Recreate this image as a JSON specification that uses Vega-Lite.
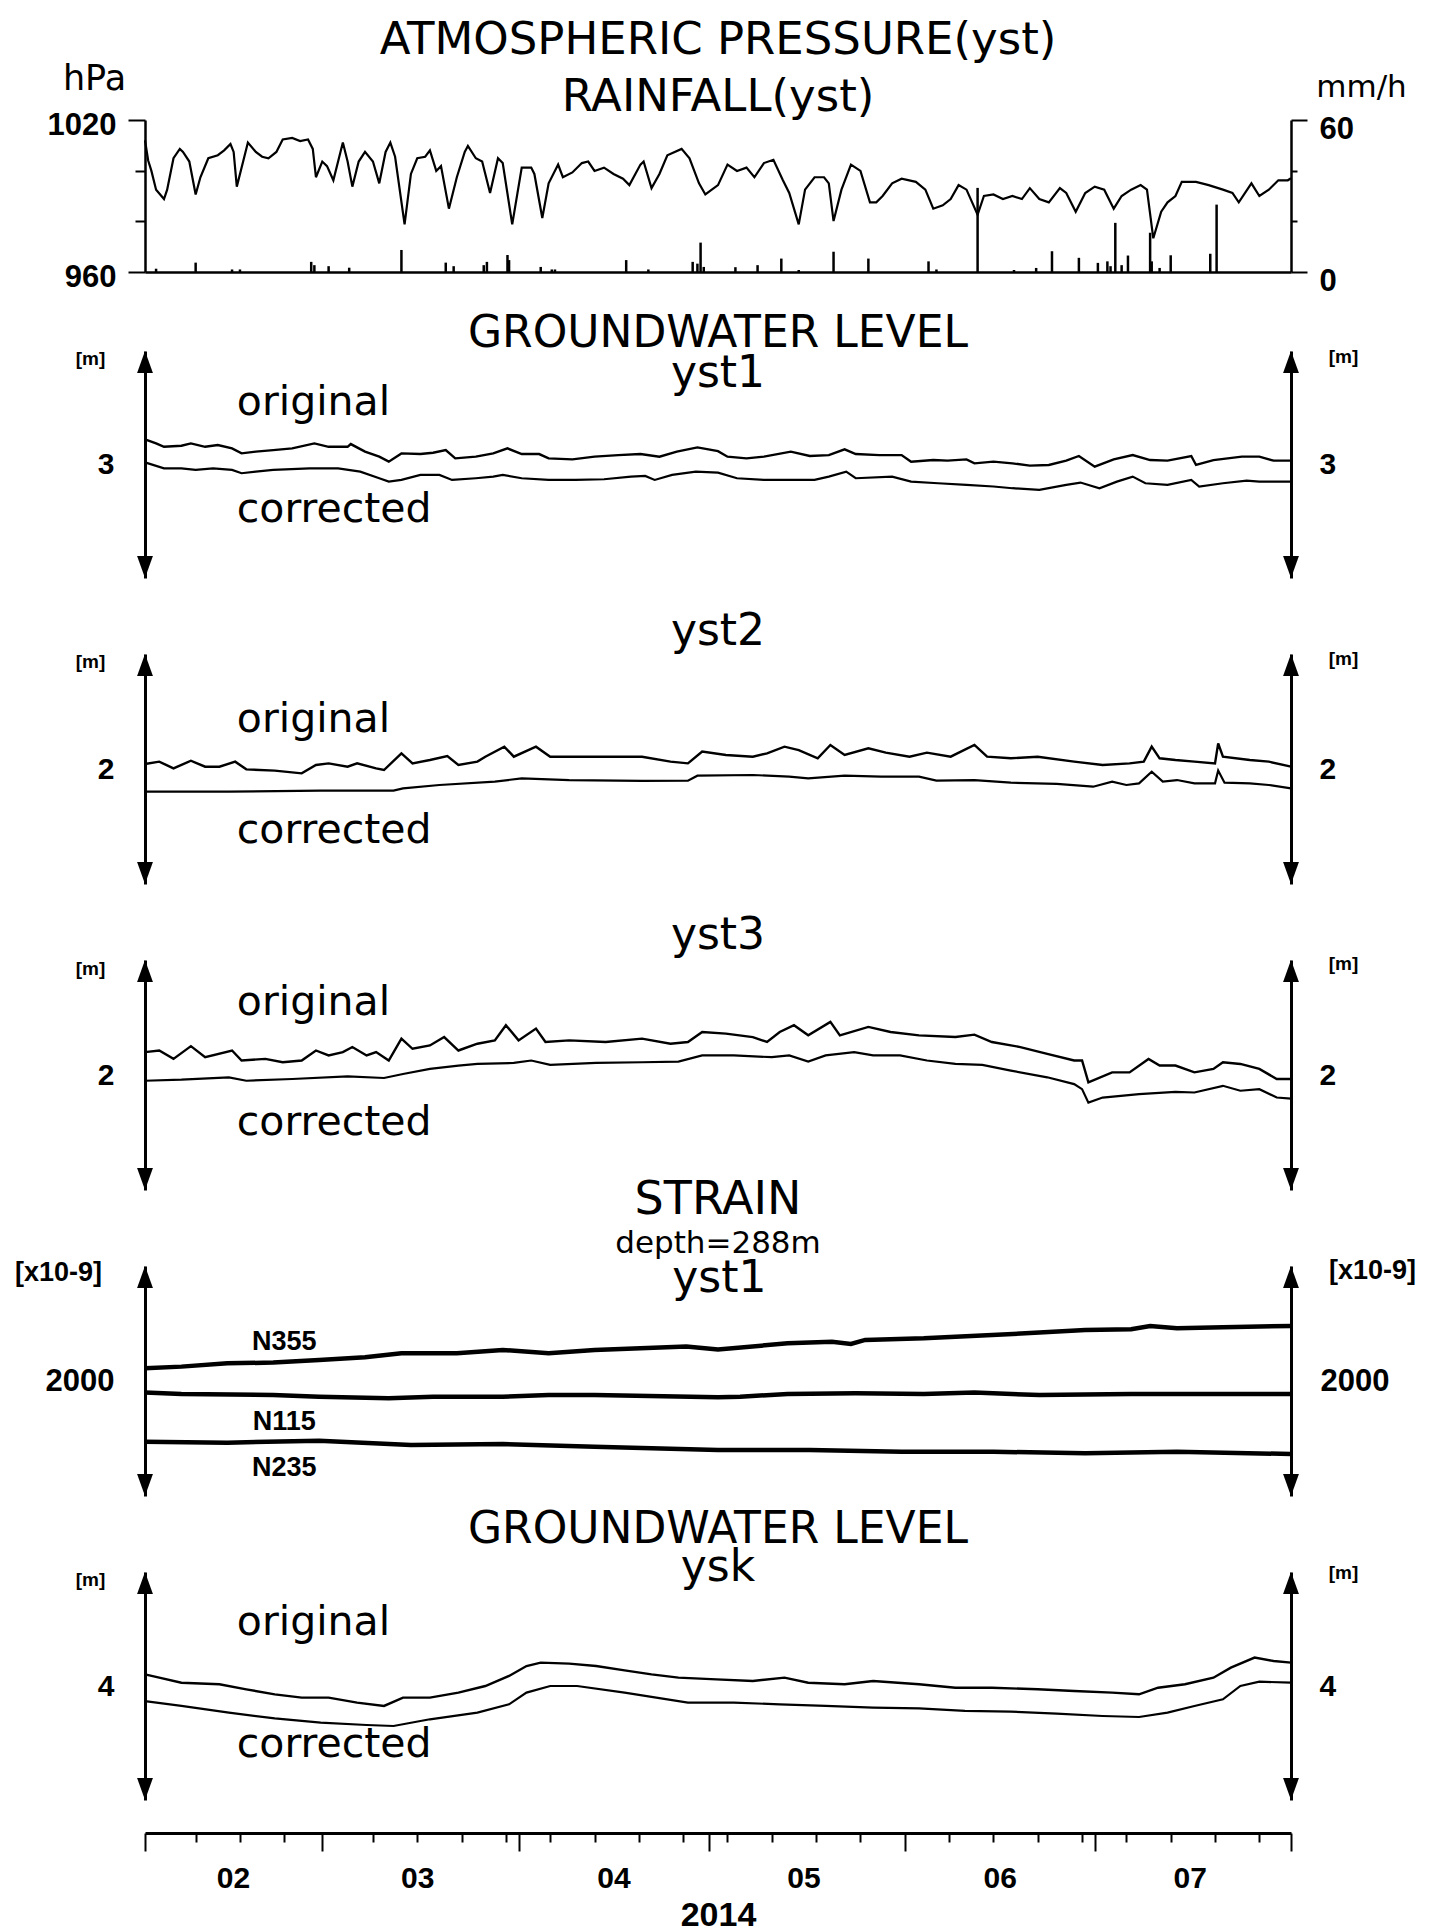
{
"$schema": "https://vega.github.io/schema/vega-lite/v6.json",
"background": "white",
"padding": {"left": 14, "top": 18, "right": 5, "bottom": 5},
"config": {
  "view": {"stroke": null},
  "axis": {"grid": false, "labelColor": "black", "titleColor": "black", "domainColor": "black", "tickColor": "black"},
  "title": {"color": "black", "font": "DejaVu Sans", "fontWeight": "normal", "subtitleColor": "black"}
},
"spacing": 79,
"bounds": "flush",
"datasets": {
"pressure": [
{"t":"2014-02-01T00:00","p":1012},{"t":"2014-02-01T12:00","p":1004},{"t":"2014-02-02T00:00","p":1000},{"t":"2014-02-02T18:00","p":992.5},{"t":"2014-02-04T00:00","p":988.8},{"t":"2014-02-04T12:00","p":992.5},{"t":"2014-02-05T12:00","p":1004.9},{"t":"2014-02-06T12:00","p":1008.6},{"t":"2014-02-07T00:00","p":1007.4},{"t":"2014-02-08T00:00","p":1003.6},{"t":"2014-02-09T00:00","p":990.6},{"t":"2014-02-09T18:00","p":997.4},{"t":"2014-02-11T00:00","p":1004.9},{"t":"2014-02-12T12:00","p":1006.1},{"t":"2014-02-13T12:00","p":1008},{"t":"2014-02-14T12:00","p":1010.5},{"t":"2014-02-15T00:00","p":1007.4},{"t":"2014-02-15T12:00","p":993.7},{"t":"2014-02-16T12:00","p":1003.6},{"t":"2014-02-17T06:00","p":1011.1},{"t":"2014-02-18T12:00","p":1007.4},{"t":"2014-02-19T12:00","p":1005.5},{"t":"2014-02-20T12:00","p":1004.9},{"t":"2014-02-21T18:00","p":1007.4},{"t":"2014-02-22T18:00","p":1012.3},{"t":"2014-02-24T06:00","p":1012.9},{"t":"2014-02-25T12:00","p":1011.7},{"t":"2014-02-26T18:00","p":1012.3},{"t":"2014-02-27T12:00","p":1008.6},{"t":"2014-02-28T00:00","p":997.4},
{"t":"2014-03-01T00:00","p":1003.6},{"t":"2014-03-01T18:00","p":1001.8},{"t":"2014-03-02T18:00","p":996.2},{"t":"2014-03-04T06:00","p":1011.1},{"t":"2014-03-05T00:00","p":1003.6},{"t":"2014-03-05T18:00","p":993.7},{"t":"2014-03-06T18:00","p":1003.6},{"t":"2014-03-07T18:00","p":1007.4},{"t":"2014-03-09T00:00","p":1003.6},{"t":"2014-03-10T00:00","p":995},{"t":"2014-03-11T00:00","p":1007.4},{"t":"2014-03-11T18:00","p":1011.1},{"t":"2014-03-12T12:00","p":1005.5},{"t":"2014-03-14T00:00","p":978.8},{"t":"2014-03-15T00:00","p":998.7},{"t":"2014-03-16T00:00","p":1004.9},{"t":"2014-03-17T06:00","p":1005.5},{"t":"2014-03-18T00:00","p":1008},{"t":"2014-03-19T00:00","p":999.9},{"t":"2014-03-19T18:00","p":1001.8},{"t":"2014-03-21T00:00","p":985},{"t":"2014-03-22T06:00","p":997.4},{"t":"2014-03-23T12:00","p":1007.4},{"t":"2014-03-24T00:00","p":1009.8},{"t":"2014-03-25T06:00","p":1004.9},{"t":"2014-03-26T06:00","p":1003.6},{"t":"2014-03-27T12:00","p":991.2},{"t":"2014-03-28T18:00","p":1004.9},{"t":"2014-03-29T12:00","p":1003},{"t":"2014-03-31T00:00","p":978.8},
{"t":"2014-04-01T12:00","p":1001.2},{"t":"2014-04-03T00:00","p":1001.2},{"t":"2014-04-03T12:00","p":998.7},{"t":"2014-04-04T18:00","p":981.3},{"t":"2014-04-05T18:00","p":995},{"t":"2014-04-07T06:00","p":1002.4},{"t":"2014-04-08T00:00","p":997.4},{"t":"2014-04-09T12:00","p":999.3},{"t":"2014-04-11T00:00","p":1003},{"t":"2014-04-12T00:00","p":1003.6},{"t":"2014-04-13T00:00","p":999.9},{"t":"2014-04-14T12:00","p":1001.2},{"t":"2014-04-16T00:00","p":998.7},{"t":"2014-04-17T12:00","p":996.8},{"t":"2014-04-18T12:00","p":994.3},{"t":"2014-04-20T06:00","p":1002.4},{"t":"2014-04-20T18:00","p":1003.6},{"t":"2014-04-22T00:00","p":993.1},{"t":"2014-04-23T06:00","p":998.7},{"t":"2014-04-24T12:00","p":1006.1},{"t":"2014-04-26T18:00","p":1008.6},{"t":"2014-04-28T00:00","p":1004.9},{"t":"2014-04-29T12:00","p":995},{"t":"2014-04-30T12:00","p":990.6},
{"t":"2014-05-02T12:00","p":994.3},{"t":"2014-05-04T00:00","p":1002.4},{"t":"2014-05-05T12:00","p":999.9},{"t":"2014-05-07T00:00","p":1001.2},{"t":"2014-05-08T06:00","p":997.4},{"t":"2014-05-09T18:00","p":1003},{"t":"2014-05-11T06:00","p":1004.3},{"t":"2014-05-12T18:00","p":996.2},{"t":"2014-05-13T18:00","p":991.2},{"t":"2014-05-15T06:00","p":978.8},{"t":"2014-05-16T06:00","p":992.5},{"t":"2014-05-17T18:00","p":997.4},{"t":"2014-05-19T06:00","p":997.4},{"t":"2014-05-20T00:00","p":995},{"t":"2014-05-20T18:00","p":980.1},{"t":"2014-05-22T00:00","p":992.5},{"t":"2014-05-23T12:00","p":1002.4},{"t":"2014-05-25T00:00","p":999.9},{"t":"2014-05-26T12:00","p":987.5},{"t":"2014-05-27T12:00","p":987.5},{"t":"2014-05-28T12:00","p":990},{"t":"2014-05-30T00:00","p":995},{"t":"2014-05-31T12:00","p":996.8},
{"t":"2014-06-02T18:00","p":995.6},{"t":"2014-06-04T06:00","p":992.5},{"t":"2014-06-05T12:00","p":985},{"t":"2014-06-07T00:00","p":986.3},{"t":"2014-06-08T06:00","p":988.8},{"t":"2014-06-09T12:00","p":994.3},{"t":"2014-06-10T18:00","p":992.5},{"t":"2014-06-12T12:00","p":982.6},{"t":"2014-06-13T12:00","p":990},{"t":"2014-06-15T00:00","p":990.6},{"t":"2014-06-16T12:00","p":988.8},{"t":"2014-06-18T00:00","p":990},{"t":"2014-06-19T12:00","p":988.8},{"t":"2014-06-20T18:00","p":993.1},{"t":"2014-06-22T06:00","p":988.8},{"t":"2014-06-23T18:00","p":987.5},{"t":"2014-06-25T12:00","p":993.1},{"t":"2014-06-26T12:00","p":991.2},{"t":"2014-06-28T00:00","p":983.8},{"t":"2014-06-29T12:00","p":991.2},
{"t":"2014-07-01T00:00","p":993.7},{"t":"2014-07-02T12:00","p":992.5},{"t":"2014-07-04T00:00","p":985},{"t":"2014-07-05T06:00","p":990},{"t":"2014-07-06T18:00","p":992.5},{"t":"2014-07-08T06:00","p":994.3},{"t":"2014-07-09T06:00","p":992.5},{"t":"2014-07-10T06:00","p":973.3},{"t":"2014-07-11T12:00","p":983.8},{"t":"2014-07-12T12:00","p":987.5},{"t":"2014-07-13T18:00","p":990},{"t":"2014-07-14T18:00","p":995.6},{"t":"2014-07-17T00:00","p":995.6},{"t":"2014-07-19T00:00","p":994.3},{"t":"2014-07-21T06:00","p":992.5},{"t":"2014-07-22T18:00","p":991.2},{"t":"2014-07-23T18:00","p":987.5},{"t":"2014-07-25T18:00","p":995},{"t":"2014-07-27T00:00","p":990},{"t":"2014-07-28T12:00","p":992.5},{"t":"2014-07-30T00:00","p":996.2},{"t":"2014-07-31T12:00","p":996.2},{"t":"2014-08-01T00:00","p":997}
],
"rain": [
{"t":"2014-02-02T18:00","r":1.3},{"t":"2014-02-09T00:00","r":3.7},{"t":"2014-02-14T18:00","r":1},{"t":"2014-02-16T00:00","r":1},{"t":"2014-02-27T06:00","r":4},{"t":"2014-02-27T18:00","r":2.7},{"t":"2014-03-02T00:00","r":2.3},{"t":"2014-03-05T06:00","r":1.7},{"t":"2014-03-13T12:00","r":8.7},{"t":"2014-03-20T12:00","r":3.7},{"t":"2014-03-21T18:00","r":2.3},{"t":"2014-03-26T12:00","r":2.7},{"t":"2014-03-27T00:00","r":4},{"t":"2014-03-30T06:00","r":6.7},{"t":"2014-03-30T12:00","r":4.7},{"t":"2014-04-04T12:00","r":2},{"t":"2014-04-06T06:00","r":1},{"t":"2014-04-06T18:00","r":1},{"t":"2014-04-18T00:00","r":4.7},{"t":"2014-04-21T12:00","r":1},{"t":"2014-04-28T12:00","r":4},{"t":"2014-04-29T06:00","r":3.3},{"t":"2014-04-29T18:00","r":11.6},{"t":"2014-04-30T06:00","r":2},{"t":"2014-05-05T06:00","r":1.9},{"t":"2014-05-08T18:00","r":2.7},{"t":"2014-05-12T12:00","r":5.3},{"t":"2014-05-15T06:00","r":0.8},{"t":"2014-05-20T18:00","r":8},{"t":"2014-05-26T06:00","r":5.3},{"t":"2014-06-04T18:00","r":4.2},{"t":"2014-06-06T00:00","r":1},{"t":"2014-06-12T12:00","r":33.2},{"t":"2014-06-18T06:00","r":0.8},{"t":"2014-06-21T18:00","r":1.6},{"t":"2014-06-24T06:00","r":8.2},{"t":"2014-06-28T12:00","r":5.6},{"t":"2014-07-01T12:00","r":3.6},{"t":"2014-07-03T00:00","r":4.2},{"t":"2014-07-03T12:00","r":2.3},{"t":"2014-07-04T06:00","r":19.4},{"t":"2014-07-05T06:00","r":2.7},{"t":"2014-07-06T06:00","r":6.5},{"t":"2014-07-09T18:00","r":15.5},{"t":"2014-07-10T00:00","r":4.2},{"t":"2014-07-11T06:00","r":1.6},{"t":"2014-07-13T00:00","r":6.6},{"t":"2014-07-19T06:00","r":7.2},{"t":"2014-07-20T06:00","r":26.6}
],
"yst1": [
{"s":"original","t":"2014-02-01T00:00","v":3.221},{"s":"original","t":"2014-02-02T18:00","v":3.186},{"s":"original","t":"2014-02-04T00:00","v":3.156},{"s":"original","t":"2014-02-06T18:00","v":3.165},{"s":"original","t":"2014-02-08T06:00","v":3.186},{"s":"original","t":"2014-02-10T12:00","v":3.156},{"s":"original","t":"2014-02-12T12:00","v":3.171},{"s":"original","t":"2014-02-14T18:00","v":3.142},{"s":"original","t":"2014-02-16T06:00","v":3.098},{"s":"original","t":"2014-02-18T12:00","v":3.113},{"s":"original","t":"2014-02-21T06:00","v":3.127},{"s":"original","t":"2014-02-24T06:00","v":3.142},{"s":"original","t":"2014-02-27T18:00","v":3.186},{"s":"original","t":"2014-03-02T00:00","v":3.156},{"s":"original","t":"2014-03-05T00:00","v":3.156},{"s":"original","t":"2014-03-05T12:00","v":3.18},{"s":"original","t":"2014-03-07T18:00","v":3.113},{"s":"original","t":"2014-03-10T00:00","v":3.069},{"s":"original","t":"2014-03-11T12:00","v":3.025},{"s":"original","t":"2014-03-13T12:00","v":3.098},{"s":"original","t":"2014-03-16T12:00","v":3.092},{"s":"original","t":"2014-03-18T12:00","v":3.104},{"s":"original","t":"2014-03-20T12:00","v":3.127},{"s":"original","t":"2014-03-22T00:00","v":3.054},{"s":"original","t":"2014-03-25T06:00","v":3.069},{"s":"original","t":"2014-03-28T00:00","v":3.098},{"s":"original","t":"2014-03-30T06:00","v":3.142},{"s":"original","t":"2014-04-01T12:00","v":3.092},{"s":"original","t":"2014-04-04T06:00","v":3.092},{"s":"original","t":"2014-04-05T18:00","v":3.054},{"s":"original","t":"2014-04-09T12:00","v":3.045},{"s":"original","t":"2014-04-13T00:00","v":3.069},{"s":"original","t":"2014-04-16T18:00","v":3.083},{"s":"original","t":"2014-04-20T06:00","v":3.092},{"s":"original","t":"2014-04-23T06:00","v":3.069},{"s":"original","t":"2014-04-26T00:00","v":3.113},{"s":"original","t":"2014-04-29T06:00","v":3.151},{"s":"original","t":"2014-05-02T12:00","v":3.118},{"s":"original","t":"2014-05-04T00:00","v":3.069},{"s":"original","t":"2014-05-07T00:00","v":3.054},{"s":"original","t":"2014-05-09T18:00","v":3.069},{"s":"original","t":"2014-05-14T00:00","v":3.113},{"s":"original","t":"2014-05-17T00:00","v":3.075},{"s":"original","t":"2014-05-20T00:00","v":3.083},{"s":"original","t":"2014-05-22T12:00","v":3.133},{"s":"original","t":"2014-05-24T06:00","v":3.092},{"s":"original","t":"2014-05-28T00:00","v":3.083},{"s":"original","t":"2014-05-31T12:00","v":3.083},{"s":"original","t":"2014-06-02T00:00","v":3.025},{"s":"original","t":"2014-06-05T12:00","v":3.039},{"s":"original","t":"2014-06-07T18:00","v":3.034},{"s":"original","t":"2014-06-10T18:00","v":3.045},{"s":"original","t":"2014-06-12T00:00","v":3.01},{"s":"original","t":"2014-06-15T00:00","v":3.025},{"s":"original","t":"2014-06-18T00:00","v":3.01},{"s":"original","t":"2014-06-20T18:00","v":2.99},{"s":"original","t":"2014-06-23T18:00","v":2.996},{"s":"original","t":"2014-06-26T12:00","v":3.034},{"s":"original","t":"2014-06-28T12:00","v":3.075},{"s":"original","t":"2014-07-01T00:00","v":2.981},{"s":"original","t":"2014-07-04T00:00","v":3.045},{"s":"original","t":"2014-07-07T00:00","v":3.083},{"s":"original","t":"2014-07-09T18:00","v":3.039},{"s":"original","t":"2014-07-12T12:00","v":3.034},{"s":"original","t":"2014-07-16T06:00","v":3.075},{"s":"original","t":"2014-07-17T00:00","v":2.996},{"s":"original","t":"2014-07-19T18:00","v":3.039},{"s":"original","t":"2014-07-24T06:00","v":3.069},{"s":"original","t":"2014-07-27T00:00","v":3.069},{"s":"original","t":"2014-07-29T06:00","v":3.034},{"s":"original","t":"2014-08-01T00:00","v":3.034},
{"s":"corrected","t":"2014-02-01T00:00","v":3.019},{"s":"corrected","t":"2014-02-04T00:00","v":2.966},{"s":"corrected","t":"2014-02-06T18:00","v":2.966},{"s":"corrected","t":"2014-02-09T00:00","v":2.952},{"s":"corrected","t":"2014-02-11T18:00","v":2.966},{"s":"corrected","t":"2014-02-14T18:00","v":2.952},{"s":"corrected","t":"2014-02-16T06:00","v":2.923},{"s":"corrected","t":"2014-02-18T12:00","v":2.937},{"s":"corrected","t":"2014-02-21T06:00","v":2.952},{"s":"corrected","t":"2014-02-27T00:00","v":2.966},{"s":"corrected","t":"2014-03-03T12:00","v":2.966},{"s":"corrected","t":"2014-03-07T00:00","v":2.937},{"s":"corrected","t":"2014-03-10T00:00","v":2.879},{"s":"corrected","t":"2014-03-11T12:00","v":2.849},{"s":"corrected","t":"2014-03-13T12:00","v":2.864},{"s":"corrected","t":"2014-03-16T12:00","v":2.908},{"s":"corrected","t":"2014-03-19T12:00","v":2.908},{"s":"corrected","t":"2014-03-21T12:00","v":2.864},{"s":"corrected","t":"2014-03-25T06:00","v":2.879},{"s":"corrected","t":"2014-03-28T00:00","v":2.893},{"s":"corrected","t":"2014-03-29T12:00","v":2.908},{"s":"corrected","t":"2014-04-01T12:00","v":2.879},{"s":"corrected","t":"2014-04-05T18:00","v":2.864},{"s":"corrected","t":"2014-04-10T00:00","v":2.864},{"s":"corrected","t":"2014-04-14T12:00","v":2.87},{"s":"corrected","t":"2014-04-18T18:00","v":2.893},{"s":"corrected","t":"2014-04-21T00:00","v":2.899},{"s":"corrected","t":"2014-04-22T12:00","v":2.864},{"s":"corrected","t":"2014-04-25T06:00","v":2.908},{"s":"corrected","t":"2014-04-29T00:00","v":2.937},{"s":"corrected","t":"2014-05-02T12:00","v":2.928},{"s":"corrected","t":"2014-05-05T12:00","v":2.879},{"s":"corrected","t":"2014-05-09T18:00","v":2.864},{"s":"corrected","t":"2014-05-14T00:00","v":2.864},{"s":"corrected","t":"2014-05-17T18:00","v":2.864},{"s":"corrected","t":"2014-05-20T00:00","v":2.893},{"s":"corrected","t":"2014-05-22T18:00","v":2.937},{"s":"corrected","t":"2014-05-24T06:00","v":2.879},{"s":"corrected","t":"2014-05-30T00:00","v":2.893},{"s":"corrected","t":"2014-06-02T00:00","v":2.849},{"s":"corrected","t":"2014-06-06T06:00","v":2.835},{"s":"corrected","t":"2014-06-10T18:00","v":2.82},{"s":"corrected","t":"2014-06-15T00:00","v":2.806},{"s":"corrected","t":"2014-06-18T00:00","v":2.791},{"s":"corrected","t":"2014-06-22T06:00","v":2.776},{"s":"corrected","t":"2014-06-26T12:00","v":2.82},{"s":"corrected","t":"2014-06-28T18:00","v":2.841},{"s":"corrected","t":"2014-07-01T18:00","v":2.791},{"s":"corrected","t":"2014-07-04T12:00","v":2.849},{"s":"corrected","t":"2014-07-07T00:00","v":2.893},{"s":"corrected","t":"2014-07-09T00:00","v":2.835},{"s":"corrected","t":"2014-07-12T12:00","v":2.82},{"s":"corrected","t":"2014-07-16T06:00","v":2.864},{"s":"corrected","t":"2014-07-17T12:00","v":2.806},{"s":"corrected","t":"2014-07-21T06:00","v":2.835},{"s":"corrected","t":"2014-07-25T00:00","v":2.858},{"s":"corrected","t":"2014-07-27T00:00","v":2.849},{"s":"corrected","t":"2014-08-01T00:00","v":2.849}
],
"yst2": [
{"s":"original","t":"2014-02-01T00:00","v":2.043},{"s":"original","t":"2014-02-03T06:00","v":2.064},{"s":"original","t":"2014-02-05T12:00","v":2.006},{"s":"original","t":"2014-02-08T06:00","v":2.072},{"s":"original","t":"2014-02-10T12:00","v":2.02},{"s":"original","t":"2014-02-12T18:00","v":2.02},{"s":"original","t":"2014-02-15T06:00","v":2.064},{"s":"original","t":"2014-02-17T00:00","v":1.997},{"s":"original","t":"2014-02-21T12:00","v":1.986},{"s":"original","t":"2014-02-25T18:00","v":1.962},{"s":"original","t":"2014-02-28T00:00","v":2.035},{"s":"original","t":"2014-03-02T00:00","v":2.049},{"s":"original","t":"2014-03-05T00:00","v":2.02},{"s":"original","t":"2014-03-06T12:00","v":2.049},{"s":"original","t":"2014-03-09T12:00","v":2.006},{"s":"original","t":"2014-03-10T18:00","v":1.991},{"s":"original","t":"2014-03-13T12:00","v":2.136},{"s":"original","t":"2014-03-15T06:00","v":2.049},{"s":"original","t":"2014-03-18T00:00","v":2.078},{"s":"original","t":"2014-03-20T18:00","v":2.113},{"s":"original","t":"2014-03-22T12:00","v":2.035},{"s":"original","t":"2014-03-25T12:00","v":2.064},{"s":"original","t":"2014-03-26T18:00","v":2.107},{"s":"original","t":"2014-03-29T18:00","v":2.194},{"s":"original","t":"2014-03-31T06:00","v":2.107},{"s":"original","t":"2014-04-03T18:00","v":2.194},{"s":"original","t":"2014-04-06T00:00","v":2.107},{"s":"original","t":"2014-04-09T00:00","v":2.107},{"s":"original","t":"2014-04-14T18:00","v":2.107},{"s":"original","t":"2014-04-20T12:00","v":2.107},{"s":"original","t":"2014-04-25T00:00","v":2.064},{"s":"original","t":"2014-04-27T18:00","v":2.049},{"s":"original","t":"2014-04-30T00:00","v":2.151},{"s":"original","t":"2014-05-03T18:00","v":2.122},{"s":"original","t":"2014-05-08T00:00","v":2.107},{"s":"original","t":"2014-05-10T06:00","v":2.136},{"s":"original","t":"2014-05-13T00:00","v":2.194},{"s":"original","t":"2014-05-15T06:00","v":2.165},{"s":"original","t":"2014-05-18T06:00","v":2.093},{"s":"original","t":"2014-05-20T06:00","v":2.209},{"s":"original","t":"2014-05-22T12:00","v":2.122},{"s":"original","t":"2014-05-26T06:00","v":2.18},{"s":"original","t":"2014-05-29T00:00","v":2.142},{"s":"original","t":"2014-06-01T18:00","v":2.107},{"s":"original","t":"2014-06-04T12:00","v":2.142},{"s":"original","t":"2014-06-08T06:00","v":2.107},{"s":"original","t":"2014-06-12T00:00","v":2.209},{"s":"original","t":"2014-06-14T00:00","v":2.107},{"s":"original","t":"2014-06-17T18:00","v":2.093},{"s":"original","t":"2014-06-22T00:00","v":2.107},{"s":"original","t":"2014-06-27T18:00","v":2.064},{"s":"original","t":"2014-07-02T06:00","v":2.035},{"s":"original","t":"2014-07-06T12:00","v":2.049},{"s":"original","t":"2014-07-08T18:00","v":2.064},{"s":"original","t":"2014-07-10T00:00","v":2.194},{"s":"original","t":"2014-07-11T06:00","v":2.093},{"s":"original","t":"2014-07-13T18:00","v":2.078},{"s":"original","t":"2014-07-16T18:00","v":2.064},{"s":"original","t":"2014-07-20T00:00","v":2.049},{"s":"original","t":"2014-07-20T12:00","v":2.223},{"s":"original","t":"2014-07-21T06:00","v":2.107},{"s":"original","t":"2014-07-25T12:00","v":2.078},{"s":"original","t":"2014-07-28T12:00","v":2.064},{"s":"original","t":"2014-08-01T00:00","v":2.02},
{"s":"corrected","t":"2014-02-01T00:00","v":1.803},{"s":"corrected","t":"2014-02-14T06:00","v":1.803},{"s":"corrected","t":"2014-02-28T18:00","v":1.812},{"s":"corrected","t":"2014-03-12T06:00","v":1.812},{"s":"corrected","t":"2014-03-13T18:00","v":1.832},{"s":"corrected","t":"2014-03-19T12:00","v":1.861},{"s":"corrected","t":"2014-03-28T06:00","v":1.89},{"s":"corrected","t":"2014-04-01T12:00","v":1.919},{"s":"corrected","t":"2014-04-09T00:00","v":1.904},{"s":"corrected","t":"2014-04-20T12:00","v":1.896},{"s":"corrected","t":"2014-04-27T18:00","v":1.899},{"s":"corrected","t":"2014-04-29T06:00","v":1.942},{"s":"corrected","t":"2014-05-08T00:00","v":1.948},{"s":"corrected","t":"2014-05-13T18:00","v":1.933},{"s":"corrected","t":"2014-05-16T18:00","v":1.919},{"s":"corrected","t":"2014-05-22T12:00","v":1.942},{"s":"corrected","t":"2014-05-28T06:00","v":1.933},{"s":"corrected","t":"2014-06-03T06:00","v":1.933},{"s":"corrected","t":"2014-06-06T00:00","v":1.899},{"s":"corrected","t":"2014-06-12T00:00","v":1.904},{"s":"corrected","t":"2014-06-17T18:00","v":1.881},{"s":"corrected","t":"2014-06-25T00:00","v":1.87},{"s":"corrected","t":"2014-06-30T18:00","v":1.846},{"s":"corrected","t":"2014-07-03T18:00","v":1.89},{"s":"corrected","t":"2014-07-06T00:00","v":1.861},{"s":"corrected","t":"2014-07-08T00:00","v":1.875},{"s":"corrected","t":"2014-07-10T00:00","v":1.977},{"s":"corrected","t":"2014-07-11T18:00","v":1.89},{"s":"corrected","t":"2014-07-14T00:00","v":1.904},{"s":"corrected","t":"2014-07-16T18:00","v":1.875},{"s":"corrected","t":"2014-07-20T00:00","v":1.875},{"s":"corrected","t":"2014-07-20T12:00","v":1.986},{"s":"corrected","t":"2014-07-21T12:00","v":1.881},{"s":"corrected","t":"2014-07-25T12:00","v":1.875},{"s":"corrected","t":"2014-07-28T12:00","v":1.861},{"s":"corrected","t":"2014-08-01T00:00","v":1.832}
],
"yst3": [
{"s":"original","t":"2014-02-01T00:00","v":2.199},{"s":"original","t":"2014-02-03T06:00","v":2.213},{"s":"original","t":"2014-02-05T12:00","v":2.14},{"s":"original","t":"2014-02-08T06:00","v":2.251},{"s":"original","t":"2014-02-10T12:00","v":2.155},{"s":"original","t":"2014-02-14T18:00","v":2.213},{"s":"original","t":"2014-02-16T06:00","v":2.126},{"s":"original","t":"2014-02-20T00:00","v":2.14},{"s":"original","t":"2014-02-22T18:00","v":2.111},{"s":"original","t":"2014-02-25T18:00","v":2.126},{"s":"original","t":"2014-02-28T00:00","v":2.213},{"s":"original","t":"2014-03-02T00:00","v":2.17},{"s":"original","t":"2014-03-04T06:00","v":2.199},{"s":"original","t":"2014-03-05T18:00","v":2.243},{"s":"original","t":"2014-03-08T00:00","v":2.17},{"s":"original","t":"2014-03-09T12:00","v":2.199},{"s":"original","t":"2014-03-11T12:00","v":2.126},{"s":"original","t":"2014-03-13T12:00","v":2.316},{"s":"original","t":"2014-03-15T06:00","v":2.228},{"s":"original","t":"2014-03-18T00:00","v":2.257},{"s":"original","t":"2014-03-20T06:00","v":2.33},{"s":"original","t":"2014-03-22T12:00","v":2.213},{"s":"original","t":"2014-03-25T12:00","v":2.272},{"s":"original","t":"2014-03-28T06:00","v":2.301},{"s":"original","t":"2014-03-30T00:00","v":2.433},{"s":"original","t":"2014-04-01T00:00","v":2.301},{"s":"original","t":"2014-04-03T18:00","v":2.404},{"s":"original","t":"2014-04-05T06:00","v":2.287},{"s":"original","t":"2014-04-09T00:00","v":2.301},{"s":"original","t":"2014-04-14T18:00","v":2.287},{"s":"original","t":"2014-04-20T12:00","v":2.316},{"s":"original","t":"2014-04-25T00:00","v":2.272},{"s":"original","t":"2014-04-27T18:00","v":2.287},{"s":"original","t":"2014-04-30T00:00","v":2.374},{"s":"original","t":"2014-05-03T18:00","v":2.36},{"s":"original","t":"2014-05-08T00:00","v":2.33},{"s":"original","t":"2014-05-10T06:00","v":2.287},{"s":"original","t":"2014-05-12T06:00","v":2.374},{"s":"original","t":"2014-05-14T12:00","v":2.433},{"s":"original","t":"2014-05-16T18:00","v":2.345},{"s":"original","t":"2014-05-20T06:00","v":2.462},{"s":"original","t":"2014-05-21T18:00","v":2.345},{"s":"original","t":"2014-05-26T06:00","v":2.418},{"s":"original","t":"2014-05-29T18:00","v":2.374},{"s":"original","t":"2014-06-03T06:00","v":2.345},{"s":"original","t":"2014-06-09T00:00","v":2.33},{"s":"original","t":"2014-06-12T00:00","v":2.351},{"s":"original","t":"2014-06-14T18:00","v":2.287},{"s":"original","t":"2014-06-19T06:00","v":2.243},{"s":"original","t":"2014-06-23T12:00","v":2.184},{"s":"original","t":"2014-06-27T18:00","v":2.126},{"s":"original","t":"2014-06-29T00:00","v":2.126},{"s":"original","t":"2014-06-30T00:00","v":1.936},{"s":"original","t":"2014-07-03T18:00","v":2.023},{"s":"original","t":"2014-07-06T12:00","v":2.023},{"s":"original","t":"2014-07-09T12:00","v":2.14},{"s":"original","t":"2014-07-11T06:00","v":2.082},{"s":"original","t":"2014-07-13T18:00","v":2.082},{"s":"original","t":"2014-07-16T18:00","v":2.023},{"s":"original","t":"2014-07-19T18:00","v":2.053},{"s":"original","t":"2014-07-21T06:00","v":2.111},{"s":"original","t":"2014-07-24T00:00","v":2.096},{"s":"original","t":"2014-07-27T00:00","v":2.053},{"s":"original","t":"2014-07-29T18:00","v":1.965},{"s":"original","t":"2014-08-01T00:00","v":1.965},
{"s":"corrected","t":"2014-02-01T00:00","v":1.95},{"s":"corrected","t":"2014-02-06T18:00","v":1.959},{"s":"corrected","t":"2014-02-14T06:00","v":1.98},{"s":"corrected","t":"2014-02-17T00:00","v":1.95},{"s":"corrected","t":"2014-02-24T06:00","v":1.965},{"s":"corrected","t":"2014-03-05T00:00","v":1.988},{"s":"corrected","t":"2014-03-10T18:00","v":1.974},{"s":"corrected","t":"2014-03-13T18:00","v":2.009},{"s":"corrected","t":"2014-03-18T00:00","v":2.053},{"s":"corrected","t":"2014-03-22T12:00","v":2.082},{"s":"corrected","t":"2014-03-25T12:00","v":2.096},{"s":"corrected","t":"2014-03-31T06:00","v":2.105},{"s":"corrected","t":"2014-04-03T00:00","v":2.126},{"s":"corrected","t":"2014-04-06T00:00","v":2.088},{"s":"corrected","t":"2014-04-13T06:00","v":2.105},{"s":"corrected","t":"2014-04-20T12:00","v":2.111},{"s":"corrected","t":"2014-04-26T06:00","v":2.117},{"s":"corrected","t":"2014-04-30T00:00","v":2.17},{"s":"corrected","t":"2014-05-05T00:00","v":2.17},{"s":"corrected","t":"2014-05-11T00:00","v":2.155},{"s":"corrected","t":"2014-05-13T18:00","v":2.17},{"s":"corrected","t":"2014-05-16T18:00","v":2.117},{"s":"corrected","t":"2014-05-19T12:00","v":2.17},{"s":"corrected","t":"2014-05-24T00:00","v":2.199},{"s":"corrected","t":"2014-05-27T00:00","v":2.17},{"s":"corrected","t":"2014-05-31T06:00","v":2.17},{"s":"corrected","t":"2014-06-04T12:00","v":2.126},{"s":"corrected","t":"2014-06-09T00:00","v":2.096},{"s":"corrected","t":"2014-06-13T06:00","v":2.088},{"s":"corrected","t":"2014-06-17T18:00","v":2.038},{"s":"corrected","t":"2014-06-23T12:00","v":1.98},{"s":"corrected","t":"2014-06-27T18:00","v":1.921},{"s":"corrected","t":"2014-06-29T00:00","v":1.877},{"s":"corrected","t":"2014-06-30T00:00","v":1.76},{"s":"corrected","t":"2014-07-02T06:00","v":1.804},{"s":"corrected","t":"2014-07-08T00:00","v":1.833},{"s":"corrected","t":"2014-07-13T18:00","v":1.854},{"s":"corrected","t":"2014-07-16T18:00","v":1.848},{"s":"corrected","t":"2014-07-21T06:00","v":1.906},{"s":"corrected","t":"2014-07-24T00:00","v":1.863},{"s":"corrected","t":"2014-07-27T00:00","v":1.877},{"s":"corrected","t":"2014-07-29T18:00","v":1.804},{"s":"corrected","t":"2014-08-01T00:00","v":1.795}
],
"strain": [
{"s":"N355","t":"2014-02-01T00:00","v":2110},{"s":"N355","t":"2014-02-06T18:00","v":2125},{"s":"N355","t":"2014-02-14T00:00","v":2154},{"s":"N355","t":"2014-02-21T06:00","v":2160},{"s":"N355","t":"2014-02-28T12:00","v":2183},{"s":"N355","t":"2014-03-07T18:00","v":2206},{"s":"N355","t":"2014-03-13T12:00","v":2241},{"s":"N355","t":"2014-03-22T06:00","v":2241},{"s":"N355","t":"2014-03-29T12:00","v":2270},{"s":"N355","t":"2014-04-05T18:00","v":2241},{"s":"N355","t":"2014-04-13T00:00","v":2270},{"s":"N355","t":"2014-04-20T06:00","v":2284},{"s":"N355","t":"2014-04-27T12:00","v":2299},{"s":"N355","t":"2014-05-02T12:00","v":2273},{"s":"N355","t":"2014-05-13T12:00","v":2328},{"s":"N355","t":"2014-05-20T12:00","v":2342},{"s":"N355","t":"2014-05-23T12:00","v":2322},{"s":"N355","t":"2014-05-25T18:00","v":2357},{"s":"N355","t":"2014-06-04T00:00","v":2371},{"s":"N355","t":"2014-06-11T12:00","v":2392},{"s":"N355","t":"2014-06-22T06:00","v":2421},{"s":"N355","t":"2014-06-29T12:00","v":2444},{"s":"N355","t":"2014-07-06T18:00","v":2450},{"s":"N355","t":"2014-07-09T18:00","v":2479},{"s":"N355","t":"2014-07-14T00:00","v":2458},{"s":"N355","t":"2014-07-21T06:00","v":2467},{"s":"N355","t":"2014-08-01T00:00","v":2479},
{"s":"N115","t":"2014-02-01T00:00","v":1899},{"s":"N115","t":"2014-02-06T18:00","v":1887},{"s":"N115","t":"2014-02-21T06:00","v":1878},{"s":"N115","t":"2014-02-28T12:00","v":1864},{"s":"N115","t":"2014-03-11T12:00","v":1849},{"s":"N115","t":"2014-03-18T12:00","v":1864},{"s":"N115","t":"2014-03-29T12:00","v":1864},{"s":"N115","t":"2014-04-05T18:00","v":1878},{"s":"N115","t":"2014-04-13T00:00","v":1878},{"s":"N115","t":"2014-05-02T12:00","v":1858},{"s":"N115","t":"2014-05-06T00:00","v":1864},{"s":"N115","t":"2014-05-13T12:00","v":1887},{"s":"N115","t":"2014-05-24T06:00","v":1893},{"s":"N115","t":"2014-06-04T00:00","v":1887},{"s":"N115","t":"2014-06-12T00:00","v":1899},{"s":"N115","t":"2014-06-22T06:00","v":1878},{"s":"N115","t":"2014-07-06T18:00","v":1887},{"s":"N115","t":"2014-07-14T00:00","v":1887},{"s":"N115","t":"2014-08-01T00:00","v":1887},
{"s":"N235","t":"2014-02-01T00:00","v":1472},{"s":"N235","t":"2014-02-14T00:00","v":1464},{"s":"N235","t":"2014-02-28T12:00","v":1481},{"s":"N235","t":"2014-03-15T00:00","v":1443},{"s":"N235","t":"2014-03-29T12:00","v":1452},{"s":"N235","t":"2014-04-13T00:00","v":1429},{"s":"N235","t":"2014-05-02T12:00","v":1400},{"s":"N235","t":"2014-05-17T00:00","v":1400},{"s":"N235","t":"2014-05-31T12:00","v":1385},{"s":"N235","t":"2014-06-15T00:00","v":1385},{"s":"N235","t":"2014-06-29T12:00","v":1371},{"s":"N235","t":"2014-07-14T00:00","v":1385},{"s":"N235","t":"2014-08-01T00:00","v":1365}
],
"ysk": [
{"s":"original","t":"2014-02-01T00:00","v":4.102},{"s":"original","t":"2014-02-03T06:00","v":4.073},{"s":"original","t":"2014-02-06T18:00","v":4.029},{"s":"original","t":"2014-02-12T18:00","v":4.015},{"s":"original","t":"2014-02-17T00:00","v":3.971},{"s":"original","t":"2014-02-21T12:00","v":3.927},{"s":"original","t":"2014-02-25T18:00","v":3.898},{"s":"original","t":"2014-03-02T00:00","v":3.898},{"s":"original","t":"2014-03-06T12:00","v":3.854},{"s":"original","t":"2014-03-10T18:00","v":3.825},{"s":"original","t":"2014-03-13T18:00","v":3.898},{"s":"original","t":"2014-03-18T00:00","v":3.898},{"s":"original","t":"2014-03-22T12:00","v":3.942},{"s":"original","t":"2014-03-26T18:00","v":4},{"s":"original","t":"2014-03-30T12:00","v":4.088},{"s":"original","t":"2014-04-02T06:00","v":4.175},{"s":"original","t":"2014-04-04T12:00","v":4.205},{"s":"original","t":"2014-04-09T00:00","v":4.196},{"s":"original","t":"2014-04-13T06:00","v":4.175},{"s":"original","t":"2014-04-17T18:00","v":4.137},{"s":"original","t":"2014-04-22T00:00","v":4.102},{"s":"original","t":"2014-04-26T06:00","v":4.073},{"s":"original","t":"2014-05-02T06:00","v":4.058},{"s":"original","t":"2014-05-08T00:00","v":4.044},{"s":"original","t":"2014-05-13T00:00","v":4.073},{"s":"original","t":"2014-05-16T18:00","v":4.029},{"s":"original","t":"2014-05-22T12:00","v":4.015},{"s":"original","t":"2014-05-27T00:00","v":4.044},{"s":"original","t":"2014-06-03T06:00","v":4.015},{"s":"original","t":"2014-06-09T00:00","v":3.985},{"s":"original","t":"2014-06-14T18:00","v":3.985},{"s":"original","t":"2014-06-22T00:00","v":3.971},{"s":"original","t":"2014-06-27T18:00","v":3.956},{"s":"original","t":"2014-07-03T18:00","v":3.942},{"s":"original","t":"2014-07-08T00:00","v":3.927},{"s":"original","t":"2014-07-11T00:00","v":3.985},{"s":"original","t":"2014-07-15T06:00","v":4.015},{"s":"original","t":"2014-07-19T18:00","v":4.073},{"s":"original","t":"2014-07-22T12:00","v":4.161},{"s":"original","t":"2014-07-26T06:00","v":4.249},{"s":"original","t":"2014-07-29T06:00","v":4.219},{"s":"original","t":"2014-08-01T00:00","v":4.205},
{"s":"corrected","t":"2014-02-01T00:00","v":3.868},{"s":"corrected","t":"2014-02-06T18:00","v":3.825},{"s":"corrected","t":"2014-02-14T06:00","v":3.766},{"s":"corrected","t":"2014-02-21T12:00","v":3.716},{"s":"corrected","t":"2014-02-28T18:00","v":3.678},{"s":"corrected","t":"2014-03-08T00:00","v":3.658},{"s":"corrected","t":"2014-03-12T06:00","v":3.649},{"s":"corrected","t":"2014-03-18T00:00","v":3.708},{"s":"corrected","t":"2014-03-25T12:00","v":3.766},{"s":"corrected","t":"2014-03-30T12:00","v":3.839},{"s":"corrected","t":"2014-04-02T06:00","v":3.942},{"s":"corrected","t":"2014-04-06T00:00","v":4},{"s":"corrected","t":"2014-04-10T06:00","v":4},{"s":"corrected","t":"2014-04-17T18:00","v":3.942},{"s":"corrected","t":"2014-04-23T12:00","v":3.892},{"s":"corrected","t":"2014-04-27T18:00","v":3.854},{"s":"corrected","t":"2014-05-05T00:00","v":3.854},{"s":"corrected","t":"2014-05-12T06:00","v":3.839},{"s":"corrected","t":"2014-05-19T12:00","v":3.825},{"s":"corrected","t":"2014-05-27T00:00","v":3.81},{"s":"corrected","t":"2014-06-03T06:00","v":3.804},{"s":"corrected","t":"2014-06-10T12:00","v":3.781},{"s":"corrected","t":"2014-06-17T18:00","v":3.775},{"s":"corrected","t":"2014-06-25T00:00","v":3.757},{"s":"corrected","t":"2014-07-02T06:00","v":3.737},{"s":"corrected","t":"2014-07-08T00:00","v":3.728},{"s":"corrected","t":"2014-07-12T12:00","v":3.766},{"s":"corrected","t":"2014-07-16T18:00","v":3.825},{"s":"corrected","t":"2014-07-21T06:00","v":3.883},{"s":"corrected","t":"2014-07-24T00:00","v":4},{"s":"corrected","t":"2014-07-27T00:00","v":4.038},{"s":"corrected","t":"2014-08-01T00:00","v":4.029}
]
},
"vconcat": [
{
  "width": 1146, "height": 152,
  "title": {"text": ["ATMOSPHERIC PRESSURE(yst)", "RAINFALL(yst)"], "fontSize": 45, "lineHeight": 57, "anchor": "middle", "frame": "group", "offset": -59},
  "layer": [
    {"data": {"name": "pressure"}, "mark": {"type": "line", "color": "black", "strokeWidth": 2.2},
     "encoding": {
       "x": {"field": "t", "type": "temporal", "scale": {"domain": [{"year": 2014, "month": 2, "date": 1}, {"year": 2014, "month": 8, "date": 1}], "nice": false},
             "axis": {"orient": "bottom", "ticks": false, "labels": false, "title": null, "domain": true, "domainWidth": 2.5, "grid": false}},
       "y": {"field": "p", "type": "quantitative", "scale": {"domain": [960, 1020], "nice": false, "zero": false},
             "axis": {"orient": "left", "values": [960, 980, 1000, 1020], "format": "d", "domainWidth": 2.5, "tickWidth": 2,
                      "tickSize": {"condition": {"test": "datum.value == 980 || datum.value == 1000", "value": 10}, "value": 17},
                      "labelExpr": "datum.value == 960 || datum.value == 1020 ? datum.label : ''",
                      "labelBaseline": "middle", "labelOffset": 5,
                      "labelPadding": 12, "labelFont": "Liberation Sans", "labelFontSize": 31, "labelFontWeight": "bold",
                      "labelOverlap": false, "labelBound": false, "labelFlush": false,
                      "title": "hPa", "titleAngle": 0, "titleX": -51, "titleY": -42, "titleAlign": "center", "titleBaseline": "middle",
                      "titleFont": "DejaVu Sans", "titleFontSize": 35, "titleFontWeight": "normal"}}
     }},
    {"data": {"name": "rain"}, "mark": {"type": "rule", "color": "black", "strokeWidth": 2.5},
     "encoding": {
       "x": {"field": "t", "type": "temporal", "scale": {"domain": [{"year": 2014, "month": 2, "date": 1}, {"year": 2014, "month": 8, "date": 1}], "nice": false}, "axis": null},
       "y": {"field": "r", "type": "quantitative", "scale": {"domain": [0, 60], "nice": false},
             "axis": {"orient": "right", "values": [0, 20, 40, 60], "format": "d", "domainWidth": 2.5, "tickWidth": 2,
                      "tickSize": {"condition": {"test": "datum.value == 20 || datum.value == 40", "value": 6}, "value": 16},
                      "labelExpr": "datum.value == 0 || datum.value == 60 ? datum.label : ''",
                      "labelBaseline": "middle", "labelOffset": 9,
                      "labelPadding": 12, "labelFont": "Liberation Sans", "labelFontSize": 31, "labelFontWeight": "bold",
                      "labelOverlap": false, "labelBound": false, "labelFlush": false,
                      "title": "mm/h", "titleAngle": 0, "titleX": 70, "titleY": -33, "titleAlign": "center", "titleBaseline": "middle",
                      "titleFont": "DejaVu Sans", "titleFontSize": 31, "titleFontWeight": "normal"}},
       "y2": {"datum": 0}
     }}
  ],
  "resolve": {"scale": {"y": "independent"}, "axis": {"x": "independent"}}
},
{
"spacing": 76,
"bounds": "flush",
"vconcat": [
{
  "width": 1146, "height": 227,
  "title": {"text": ["GROUNDWATER LEVEL", "yst1"], "fontSize": 44, "lineHeight": 40, "anchor": "middle", "frame": "group", "offset": -49},
  "layer": [
    {"data": {"name": "yst1"}, "mark": {"type": "line", "color": "black"},
     "encoding": {
       "x": {"field": "t", "type": "temporal", "scale": {"domain": [{"year": 2014, "month": 2, "date": 1}, {"year": 2014, "month": 8, "date": 1}], "nice": false}, "axis": null},
       "y": {"field": "v", "type": "quantitative", "scale": {"domain": [2, 4], "nice": false, "zero": false},
             "axis": {"orient": "left", "values": [3], "format": "d", "domain": true, "domainWidth": 3, "ticks": false, "tickSize": 0, "labelPadding": 31,
                      "labelFont": "Liberation Sans", "labelFontSize": 30, "labelFontWeight": "bold",
                      "title": "[m]", "titleAngle": 0, "titleX": -55, "titleY": 7, "titleAlign": "center", "titleBaseline": "middle",
                      "titleFont": "Liberation Sans", "titleFontSize": 19, "titleFontWeight": "bold"}},
       "detail": {"field": "s"},
       "strokeWidth": {"field": "s", "type": "nominal", "scale": {"domain": ["original", "corrected"], "range": [2.4, 2.2]}, "legend": null}
     }},
    {"data": {"values": [{}]}, "mark": {"type": "point", "shape": "M0,0L0.36,1L-0.36,1Z", "size": 1936, "filled": true, "color": "black", "opacity": 1, "strokeWidth": 0},
     "encoding": {"x": {"datum": {"year": 2014, "month": 2, "date": 1}, "type": "temporal", "axis": null},
                  "y": {"datum": 4, "type": "quantitative",
                        "axis": {"orient": "right", "values": [3], "format": "d", "domain": true, "domainWidth": 3, "ticks": false, "tickSize": 0, "labelPadding": 28,
                                 "labelFont": "Liberation Sans", "labelFontSize": 30, "labelFontWeight": "bold",
                                 "title": "[m]", "titleAngle": 0, "titleX": 52, "titleY": 5, "titleAlign": "center", "titleBaseline": "middle",
                                 "titleFont": "Liberation Sans", "titleFontSize": 19, "titleFontWeight": "bold"}}}},
    {"data": {"values": [{}]}, "mark": {"type": "point", "shape": "M0,0L0.36,1L-0.36,1Z", "size": 1936, "filled": true, "color": "black", "opacity": 1, "strokeWidth": 0},
     "encoding": {"x": {"datum": {"year": 2014, "month": 8, "date": 1}, "type": "temporal", "axis": null}, "y": {"datum": 4, "type": "quantitative", "axis": null}}},
    {"data": {"values": [{}]}, "mark": {"type": "point", "shape": "M0,0L0.36,-1L-0.36,-1Z", "size": 1936, "filled": true, "color": "black", "opacity": 1, "strokeWidth": 0},
     "encoding": {"x": {"datum": {"year": 2014, "month": 2, "date": 1}, "type": "temporal", "axis": null}, "y": {"datum": 2, "type": "quantitative", "axis": null}}},
    {"data": {"values": [{}]}, "mark": {"type": "point", "shape": "M0,0L0.36,-1L-0.36,-1Z", "size": 1936, "filled": true, "color": "black", "opacity": 1, "strokeWidth": 0},
     "encoding": {"x": {"datum": {"year": 2014, "month": 8, "date": 1}, "type": "temporal", "axis": null}, "y": {"datum": 2, "type": "quantitative", "axis": null}}},
    {"data": {"values": [{}]}, "mark": {"type": "text", "text": "original", "font": "DejaVu Sans", "fontSize": 41, "align": "left", "baseline": "middle", "color": "black"},
     "encoding": {"x": {"datum": {"year": 2014, "month": 2, "date": 15, "hours": 12}, "type": "temporal", "axis": null}, "y": {"datum": 3.54, "type": "quantitative", "axis": null}}},
    {"data": {"values": [{}]}, "mark": {"type": "text", "text": "corrected", "font": "DejaVu Sans", "fontSize": 41, "align": "left", "baseline": "middle", "color": "black"},
     "encoding": {"x": {"datum": {"year": 2014, "month": 2, "date": 15, "hours": 12}, "type": "temporal", "axis": null}, "y": {"datum": 2.6, "type": "quantitative", "axis": null}}}
  ],
  "resolve": {"axis": {"x": "independent", "y": "independent"}}
},
{
  "width": 1146, "height": 230,
  "title": {"text": "yst2", "fontSize": 44, "anchor": "middle", "frame": "group", "offset": -5},
  "layer": [
    {"data": {"name": "yst2"}, "mark": {"type": "line", "color": "black"},
     "encoding": {
       "x": {"field": "t", "type": "temporal", "scale": {"domain": [{"year": 2014, "month": 2, "date": 1}, {"year": 2014, "month": 8, "date": 1}], "nice": false}, "axis": null},
       "y": {"field": "v", "type": "quantitative", "scale": {"domain": [1, 3], "nice": false, "zero": false},
             "axis": {"orient": "left", "values": [2], "format": "d", "domain": true, "domainWidth": 3, "ticks": false, "tickSize": 0, "labelPadding": 31,
                      "labelFont": "Liberation Sans", "labelFontSize": 30, "labelFontWeight": "bold",
                      "title": "[m]", "titleAngle": 0, "titleX": -55, "titleY": 7, "titleAlign": "center", "titleBaseline": "middle",
                      "titleFont": "Liberation Sans", "titleFontSize": 19, "titleFontWeight": "bold"}},
       "detail": {"field": "s"},
       "strokeWidth": {"field": "s", "type": "nominal", "scale": {"domain": ["original", "corrected"], "range": [3.5, 2.6]}, "legend": null}
     }},
    {"data": {"values": [{}]}, "mark": {"type": "point", "shape": "M0,0L0.36,1L-0.36,1Z", "size": 1936, "filled": true, "color": "black", "opacity": 1, "strokeWidth": 0},
     "encoding": {"x": {"datum": {"year": 2014, "month": 2, "date": 1}, "type": "temporal", "axis": null},
                  "y": {"datum": 3, "type": "quantitative",
                        "axis": {"orient": "right", "values": [2], "format": "d", "domain": true, "domainWidth": 3, "ticks": false, "tickSize": 0, "labelPadding": 28,
                                 "labelFont": "Liberation Sans", "labelFontSize": 30, "labelFontWeight": "bold",
                                 "title": "[m]", "titleAngle": 0, "titleX": 52, "titleY": 4, "titleAlign": "center", "titleBaseline": "middle",
                                 "titleFont": "Liberation Sans", "titleFontSize": 19, "titleFontWeight": "bold"}}}},
    {"data": {"values": [{}]}, "mark": {"type": "point", "shape": "M0,0L0.36,1L-0.36,1Z", "size": 1936, "filled": true, "color": "black", "opacity": 1, "strokeWidth": 0},
     "encoding": {"x": {"datum": {"year": 2014, "month": 8, "date": 1}, "type": "temporal", "axis": null}, "y": {"datum": 3, "type": "quantitative", "axis": null}}},
    {"data": {"values": [{}]}, "mark": {"type": "point", "shape": "M0,0L0.36,-1L-0.36,-1Z", "size": 1936, "filled": true, "color": "black", "opacity": 1, "strokeWidth": 0},
     "encoding": {"x": {"datum": {"year": 2014, "month": 2, "date": 1}, "type": "temporal", "axis": null}, "y": {"datum": 1, "type": "quantitative", "axis": null}}},
    {"data": {"values": [{}]}, "mark": {"type": "point", "shape": "M0,0L0.36,-1L-0.36,-1Z", "size": 1936, "filled": true, "color": "black", "opacity": 1, "strokeWidth": 0},
     "encoding": {"x": {"datum": {"year": 2014, "month": 8, "date": 1}, "type": "temporal", "axis": null}, "y": {"datum": 1, "type": "quantitative", "axis": null}}},
    {"data": {"values": [{}]}, "mark": {"type": "text", "text": "original", "font": "DejaVu Sans", "fontSize": 41, "align": "left", "baseline": "middle", "color": "black"},
     "encoding": {"x": {"datum": {"year": 2014, "month": 2, "date": 15, "hours": 12}, "type": "temporal", "axis": null}, "y": {"datum": 2.426, "type": "quantitative", "axis": null}}},
    {"data": {"values": [{}]}, "mark": {"type": "text", "text": "corrected", "font": "DejaVu Sans", "fontSize": 41, "align": "left", "baseline": "middle", "color": "black"},
     "encoding": {"x": {"datum": {"year": 2014, "month": 2, "date": 15, "hours": 12}, "type": "temporal", "axis": null}, "y": {"datum": 1.461, "type": "quantitative", "axis": null}}}
  ],
  "resolve": {"axis": {"x": "independent", "y": "independent"}}
},
{
  "width": 1146, "height": 230,
  "title": {"text": "yst3", "fontSize": 44, "anchor": "middle", "frame": "group", "offset": -4},
  "layer": [
    {"data": {"name": "yst3"}, "mark": {"type": "line", "color": "black"},
     "encoding": {
       "x": {"field": "t", "type": "temporal", "scale": {"domain": [{"year": 2014, "month": 2, "date": 1}, {"year": 2014, "month": 8, "date": 1}], "nice": false}, "axis": null},
       "y": {"field": "v", "type": "quantitative", "scale": {"domain": [1, 3], "nice": false, "zero": false},
             "axis": {"orient": "left", "values": [2], "format": "d", "domain": true, "domainWidth": 3, "ticks": false, "tickSize": 0, "labelPadding": 31,
                      "labelFont": "Liberation Sans", "labelFontSize": 30, "labelFontWeight": "bold",
                      "title": "[m]", "titleAngle": 0, "titleX": -55, "titleY": 8, "titleAlign": "center", "titleBaseline": "middle",
                      "titleFont": "Liberation Sans", "titleFontSize": 19, "titleFontWeight": "bold"}},
       "detail": {"field": "s"},
       "strokeWidth": {"field": "s", "type": "nominal", "scale": {"domain": ["original", "corrected"], "range": [3.2, 2.6]}, "legend": null}
     }},
    {"data": {"values": [{}]}, "mark": {"type": "point", "shape": "M0,0L0.36,1L-0.36,1Z", "size": 1936, "filled": true, "color": "black", "opacity": 1, "strokeWidth": 0},
     "encoding": {"x": {"datum": {"year": 2014, "month": 2, "date": 1}, "type": "temporal", "axis": null},
                  "y": {"datum": 3, "type": "quantitative",
                        "axis": {"orient": "right", "values": [2], "format": "d", "domain": true, "domainWidth": 3, "ticks": false, "tickSize": 0, "labelPadding": 28,
                                 "labelFont": "Liberation Sans", "labelFontSize": 30, "labelFontWeight": "bold",
                                 "title": "[m]", "titleAngle": 0, "titleX": 52, "titleY": 3, "titleAlign": "center", "titleBaseline": "middle",
                                 "titleFont": "Liberation Sans", "titleFontSize": 19, "titleFontWeight": "bold"}}}},
    {"data": {"values": [{}]}, "mark": {"type": "point", "shape": "M0,0L0.36,1L-0.36,1Z", "size": 1936, "filled": true, "color": "black", "opacity": 1, "strokeWidth": 0},
     "encoding": {"x": {"datum": {"year": 2014, "month": 8, "date": 1}, "type": "temporal", "axis": null}, "y": {"datum": 3, "type": "quantitative", "axis": null}}},
    {"data": {"values": [{}]}, "mark": {"type": "point", "shape": "M0,0L0.36,-1L-0.36,-1Z", "size": 1936, "filled": true, "color": "black", "opacity": 1, "strokeWidth": 0},
     "encoding": {"x": {"datum": {"year": 2014, "month": 2, "date": 1}, "type": "temporal", "axis": null}, "y": {"datum": 1, "type": "quantitative", "axis": null}}},
    {"data": {"values": [{}]}, "mark": {"type": "point", "shape": "M0,0L0.36,-1L-0.36,-1Z", "size": 1936, "filled": true, "color": "black", "opacity": 1, "strokeWidth": 0},
     "encoding": {"x": {"datum": {"year": 2014, "month": 8, "date": 1}, "type": "temporal", "axis": null}, "y": {"datum": 1, "type": "quantitative", "axis": null}}},
    {"data": {"values": [{}]}, "mark": {"type": "text", "text": "original", "font": "DejaVu Sans", "fontSize": 41, "align": "left", "baseline": "middle", "color": "black"},
     "encoding": {"x": {"datum": {"year": 2014, "month": 2, "date": 15, "hours": 12}, "type": "temporal", "axis": null}, "y": {"datum": 2.626, "type": "quantitative", "axis": null}}},
    {"data": {"values": [{}]}, "mark": {"type": "text", "text": "corrected", "font": "DejaVu Sans", "fontSize": 41, "align": "left", "baseline": "middle", "color": "black"},
     "encoding": {"x": {"datum": {"year": 2014, "month": 2, "date": 15, "hours": 12}, "type": "temporal", "axis": null}, "y": {"datum": 1.583, "type": "quantitative", "axis": null}}}
  ],
  "resolve": {"axis": {"x": "independent", "y": "independent"}}
},
{
  "width": 1146, "height": 230,
  "title": {"text": "STRAIN", "subtitle": "depth=288m", "fontSize": 46, "subtitleFontSize": 31, "subtitleFont": "DejaVu Sans", "subtitlePadding": 5, "anchor": "middle", "frame": "group", "offset": -4},
  "layer": [
    {"data": {"name": "strain"}, "mark": {"type": "line", "color": "black", "strokeWidth": 4.5},
     "encoding": {
       "x": {"field": "t", "type": "temporal", "scale": {"domain": [{"year": 2014, "month": 2, "date": 1}, {"year": 2014, "month": 8, "date": 1}], "nice": false}, "axis": null},
       "y": {"field": "v", "type": "quantitative", "scale": {"domain": [1000, 3000], "nice": false, "zero": false},
             "axis": {"orient": "left", "values": [2000], "format": "d", "domain": true, "domainWidth": 3, "ticks": false, "tickSize": 0, "labelPadding": 31,
                      "labelFont": "Liberation Sans", "labelFontSize": 31, "labelFontWeight": "bold",
                      "title": "[x10-9]", "titleAngle": 0, "titleX": -87, "titleY": 6, "titleAlign": "center", "titleBaseline": "middle",
                      "titleFont": "Liberation Sans", "titleFontSize": 27, "titleFontWeight": "bold"}},
       "detail": {"field": "s"}
     }},
    {"data": {"values": [{}]}, "mark": {"type": "point", "shape": "M0,0L0.36,1L-0.36,1Z", "size": 1936, "filled": true, "color": "black", "opacity": 1, "strokeWidth": 0},
     "encoding": {"x": {"datum": {"year": 2014, "month": 2, "date": 1}, "type": "temporal", "axis": null},
                  "y": {"datum": 3000, "type": "quantitative",
                        "axis": {"orient": "right", "values": [2000], "format": "d", "domain": true, "domainWidth": 3, "ticks": false, "tickSize": 0, "labelPadding": 29,
                                 "labelFont": "Liberation Sans", "labelFontSize": 31, "labelFontWeight": "bold",
                                 "title": "[x10-9]", "titleAngle": 0, "titleX": 81, "titleY": 4, "titleAlign": "center", "titleBaseline": "middle",
                                 "titleFont": "Liberation Sans", "titleFontSize": 27, "titleFontWeight": "bold"}}}},
    {"data": {"values": [{}]}, "mark": {"type": "point", "shape": "M0,0L0.36,1L-0.36,1Z", "size": 1936, "filled": true, "color": "black", "opacity": 1, "strokeWidth": 0},
     "encoding": {"x": {"datum": {"year": 2014, "month": 8, "date": 1}, "type": "temporal", "axis": null}, "y": {"datum": 3000, "type": "quantitative", "axis": null}}},
    {"data": {"values": [{}]}, "mark": {"type": "point", "shape": "M0,0L0.36,-1L-0.36,-1Z", "size": 1936, "filled": true, "color": "black", "opacity": 1, "strokeWidth": 0},
     "encoding": {"x": {"datum": {"year": 2014, "month": 2, "date": 1}, "type": "temporal", "axis": null}, "y": {"datum": 1000, "type": "quantitative", "axis": null}}},
    {"data": {"values": [{}]}, "mark": {"type": "point", "shape": "M0,0L0.36,-1L-0.36,-1Z", "size": 1936, "filled": true, "color": "black", "opacity": 1, "strokeWidth": 0},
     "encoding": {"x": {"datum": {"year": 2014, "month": 8, "date": 1}, "type": "temporal", "axis": null}, "y": {"datum": 1000, "type": "quantitative", "axis": null}}},
    {"data": {"values": [{}]}, "mark": {"type": "text", "text": "yst1", "font": "DejaVu Sans", "fontSize": 44, "align": "center", "baseline": "alphabetic", "color": "black"},
     "encoding": {"x": {"datum": {"year": 2014, "month": 5, "date": 2, "hours": 17}, "type": "temporal", "axis": null}, "y": {"datum": 2775, "type": "quantitative", "axis": null}}},
    {"data": {"values": [{}]}, "mark": {"type": "text", "text": "N355", "font": "Liberation Sans", "fontWeight": "bold", "fontSize": 27, "align": "center", "baseline": "middle", "color": "black"},
     "encoding": {"x": {"datum": {"year": 2014, "month": 2, "date": 23}, "type": "temporal", "axis": null}, "y": {"datum": 2339, "type": "quantitative", "axis": null}}},
    {"data": {"values": [{}]}, "mark": {"type": "text", "text": "N115", "font": "Liberation Sans", "fontWeight": "bold", "fontSize": 27, "align": "center", "baseline": "middle", "color": "black"},
     "encoding": {"x": {"datum": {"year": 2014, "month": 2, "date": 23}, "type": "temporal", "axis": null}, "y": {"datum": 1643, "type": "quantitative", "axis": null}}},
    {"data": {"values": [{}]}, "mark": {"type": "text", "text": "N235", "font": "Liberation Sans", "fontWeight": "bold", "fontSize": 27, "align": "center", "baseline": "middle", "color": "black"},
     "encoding": {"x": {"datum": {"year": 2014, "month": 2, "date": 23}, "type": "temporal", "axis": null}, "y": {"datum": 1243, "type": "quantitative", "axis": null}}}
  ],
  "resolve": {"axis": {"x": "independent", "y": "independent"}}
},
{
  "width": 1146, "height": 228,
  "title": {"text": ["GROUNDWATER LEVEL", "ysk"], "fontSize": 44, "lineHeight": 38, "anchor": "middle", "frame": "group", "offset": -27},
  "layer": [
    {"data": {"name": "ysk"}, "mark": {"type": "line", "color": "black"},
     "encoding": {
       "x": {"field": "t", "type": "temporal", "scale": {"domain": [{"year": 2014, "month": 2, "date": 1}, {"year": 2014, "month": 8, "date": 1}], "nice": false},
             "axis": {"orient": "bottom", "offset": 33,
                      "values": [{"year": 2014, "month": 2, "date": 1}, {"year": 2014, "month": 2, "date": 9}, {"year": 2014, "month": 2, "date": 16}, {"year": 2014, "month": 2, "date": 23},
                                 {"year": 2014, "month": 3, "date": 1}, {"year": 2014, "month": 3, "date": 9}, {"year": 2014, "month": 3, "date": 16}, {"year": 2014, "month": 3, "date": 23}, {"year": 2014, "month": 3, "date": 30},
                                 {"year": 2014, "month": 4, "date": 1}, {"year": 2014, "month": 4, "date": 6}, {"year": 2014, "month": 4, "date": 13}, {"year": 2014, "month": 4, "date": 20}, {"year": 2014, "month": 4, "date": 27},
                                 {"year": 2014, "month": 5, "date": 1}, {"year": 2014, "month": 5, "date": 4}, {"year": 2014, "month": 5, "date": 11}, {"year": 2014, "month": 5, "date": 18}, {"year": 2014, "month": 5, "date": 25},
                                 {"year": 2014, "month": 6, "date": 1}, {"year": 2014, "month": 6, "date": 8}, {"year": 2014, "month": 6, "date": 15}, {"year": 2014, "month": 6, "date": 22}, {"year": 2014, "month": 6, "date": 29},
                                 {"year": 2014, "month": 7, "date": 1}, {"year": 2014, "month": 7, "date": 6}, {"year": 2014, "month": 7, "date": 13}, {"year": 2014, "month": 7, "date": 20}, {"year": 2014, "month": 7, "date": 27},
                                 {"year": 2014, "month": 8, "date": 1}],
                      "domain": true, "domainWidth": 3, "ticks": true, "tickWidth": 2,
                      "tickSize": {"condition": {"test": "date(datum.value) != 1", "value": 9}, "value": 18},
                      "labelExpr": "date(datum.value) == 1 && month(datum.value) < 7 ? timeFormat(datum.value, '%m') : ''",
                      "labelOffset": {"condition": {"test": "month(datum.value) == 1", "value": 88}, "value": 95},
                      "labelPadding": 12, "labelBaseline": "top", "labelAlign": "center",
                      "labelFont": "Liberation Sans", "labelFontSize": 30, "labelFontWeight": "bold",
                      "labelOverlap": false, "labelBound": false, "labelFlush": false,
                      "title": "2014", "titleFont": "Liberation Sans", "titleFontSize": 34, "titleFontWeight": "bold",
                      "titleY": 65, "titleBaseline": "top", "titleAlign": "center", "grid": false}},
       "y": {"field": "v", "type": "quantitative", "scale": {"domain": [3, 5], "nice": false, "zero": false},
             "axis": {"orient": "left", "values": [4], "format": "d", "domain": true, "domainWidth": 3, "ticks": false, "tickSize": 0, "labelPadding": 31,
                      "labelFont": "Liberation Sans", "labelFontSize": 30, "labelFontWeight": "bold",
                      "title": "[m]", "titleAngle": 0, "titleX": -55, "titleY": 7, "titleAlign": "center", "titleBaseline": "middle",
                      "titleFont": "Liberation Sans", "titleFontSize": 19, "titleFontWeight": "bold"}},
       "detail": {"field": "s"},
       "strokeWidth": {"field": "s", "type": "nominal", "scale": {"domain": ["original", "corrected"], "range": [4, 2.6]}, "legend": null}
     }},
    {"data": {"values": [{}]}, "mark": {"type": "point", "shape": "M0,0L0.36,1L-0.36,1Z", "size": 1936, "filled": true, "color": "black", "opacity": 1, "strokeWidth": 0},
     "encoding": {"x": {"datum": {"year": 2014, "month": 2, "date": 1}, "type": "temporal", "axis": null},
                  "y": {"datum": 5, "type": "quantitative",
                        "axis": {"orient": "right", "values": [4], "format": "d", "domain": true, "domainWidth": 3, "ticks": false, "tickSize": 0, "labelPadding": 28,
                                 "labelFont": "Liberation Sans", "labelFontSize": 30, "labelFontWeight": "bold",
                                 "title": "[m]", "titleAngle": 0, "titleX": 52, "titleY": 0, "titleAlign": "center", "titleBaseline": "middle",
                                 "titleFont": "Liberation Sans", "titleFontSize": 19, "titleFontWeight": "bold"}}}},
    {"data": {"values": [{}]}, "mark": {"type": "point", "shape": "M0,0L0.36,1L-0.36,1Z", "size": 1936, "filled": true, "color": "black", "opacity": 1, "strokeWidth": 0},
     "encoding": {"x": {"datum": {"year": 2014, "month": 8, "date": 1}, "type": "temporal", "axis": null}, "y": {"datum": 5, "type": "quantitative", "axis": null}}},
    {"data": {"values": [{}]}, "mark": {"type": "point", "shape": "M0,0L0.36,-1L-0.36,-1Z", "size": 1936, "filled": true, "color": "black", "opacity": 1, "strokeWidth": 0},
     "encoding": {"x": {"datum": {"year": 2014, "month": 2, "date": 1}, "type": "temporal", "axis": null}, "y": {"datum": 3, "type": "quantitative", "axis": null}}},
    {"data": {"values": [{}]}, "mark": {"type": "point", "shape": "M0,0L0.36,-1L-0.36,-1Z", "size": 1936, "filled": true, "color": "black", "opacity": 1, "strokeWidth": 0},
     "encoding": {"x": {"datum": {"year": 2014, "month": 8, "date": 1}, "type": "temporal", "axis": null}, "y": {"datum": 3, "type": "quantitative", "axis": null}}},
    {"data": {"values": [{}]}, "mark": {"type": "text", "text": "original", "font": "DejaVu Sans", "fontSize": 41, "align": "left", "baseline": "middle", "color": "black"},
     "encoding": {"x": {"datum": {"year": 2014, "month": 2, "date": 15, "hours": 12}, "type": "temporal", "axis": null}, "y": {"datum": 4.553, "type": "quantitative", "axis": null}}},
    {"data": {"values": [{}]}, "mark": {"type": "text", "text": "corrected", "font": "DejaVu Sans", "fontSize": 41, "align": "left", "baseline": "middle", "color": "black"},
     "encoding": {"x": {"datum": {"year": 2014, "month": 2, "date": 15, "hours": 12}, "type": "temporal", "axis": null}, "y": {"datum": 3.482, "type": "quantitative", "axis": null}}}
  ],
  "resolve": {"axis": {"x": "independent", "y": "independent"}}
}
]
}
]
}
